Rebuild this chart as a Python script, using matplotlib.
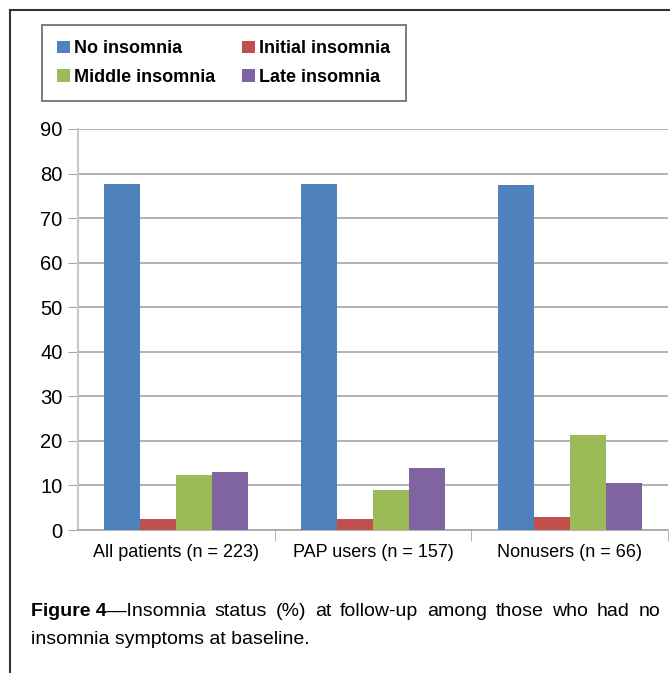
import matplotlib.pyplot as plt
import numpy as np
from matplotlib.lines import Line2D

groups = ["All patients (n = 223)", "PAP users (n = 157)", "Nonusers (n = 66)"]
series = ["No insomnia", "Initial insomnia", "Middle insomnia", "Late insomnia"]
no_insomnia = [77.6, 77.7, 77.4]
initial_insomnia = [2.5, 2.5, 3.0]
middle_insomnia = [12.3, 8.9, 21.3]
late_insomnia = [13.0, 14.0, 10.5]
colors = ["#4F81BD", "#C0504D", "#9BBB59", "#8064A2"]

plt.rcParams['font.family'] = ['Liberation Sans', 'DejaVu Sans']

fig = plt.figure(figsize=(6.70, 6.73), dpi=100)
W, H = 670, 673
ax = fig.add_axes([78 / W, 1 - 530 / H, 590 / W, 401 / H])

x = np.arange(len(groups))
bw = 0.183
values = [no_insomnia, initial_insomnia, middle_insomnia, late_insomnia]
bars = []
for i, (name, vals) in enumerate(zip(series, values)):
    bars.append(ax.bar(x + (i - 1.5) * bw, vals, bw, color=colors[i], label=name, zorder=3))

ax.set_xlim(-0.5, 2.5)
ax.set_ylim(0, 90)
ax.set_yticks(range(0, 91, 10))
ax.yaxis.grid(True, color="#A6A6A6", linewidth=1.2, zorder=0)
for s in ["top", "right"]:
    ax.spines[s].set_visible(False)
ax.spines["left"].set_color("#C8C8C8")
ax.spines["left"].set_linewidth(1.5)
ax.spines["bottom"].set_color("#A6A6A6")
ax.spines["bottom"].set_linewidth(1.2)
ax.tick_params(axis="y", length=7, color="#A6A6A6", labelsize=14.5, pad=4)
ax.set_xticks(x)
ax.set_xticklabels(groups, fontsize=13)
ax.tick_params(axis="x", length=0, pad=10)
ax.set_xticks([0.5, 1.5, 2.5], minor=True)
ax.tick_params(axis="x", which="minor", length=8, color="#A6A6A6")

# two columns filled column-wise, so order handles to read row by row
order = [0, 2, 1, 3]
leg = fig.legend([bars[i] for i in order], [series[i] for i in order],
                 loc="upper left", bbox_to_anchor=(42 / W, 1 - 25 / H), ncol=2,
                 prop={"weight": "bold", "size": 13}, frameon=True, fancybox=False,
                 handlelength=0.7, handleheight=0.7, handletextpad=0.25,
                 columnspacing=1.45, labelspacing=0.62, borderpad=0.85, borderaxespad=0)
leg.get_frame().set_edgecolor("#404040")
leg.get_frame().set_linewidth(1.2)

# outer frame lines
fig.add_artist(Line2D([10 / W, 10 / W], [0, 1 - 10 / H], color="#333333", linewidth=1.5))
fig.add_artist(Line2D([10 / W, 1], [1 - 10 / H, 1 - 10 / H], color="#333333", linewidth=1.5))

# caption, first line justified between x=31 and x=660
renderer = fig.canvas.get_renderer()
words = [("Figure 4", "bold"), ("\u2014Insomnia", "normal")] + \
        [(w, "normal") for w in "status (%) at follow-up among those who had no".split()]
texts = [fig.text(0, 1 - 612 / H, w, fontsize=14, fontweight=fw, va="center") for w, fw in words]
widths = [t.get_window_extent(renderer).width for t in texts]
gap = ((660 - 31) - sum(widths)) / (len(texts) - 2)
pos = 31
for k, (t, w) in enumerate(zip(texts, widths)):
    t.set_x(pos / W)
    pos += w + (0 if k == 0 else gap)
fig.text(31 / W, 1 - 640 / H, "insomnia symptoms at baseline.", fontsize=14, va="center")

fig.savefig("out.png", dpi=100)
